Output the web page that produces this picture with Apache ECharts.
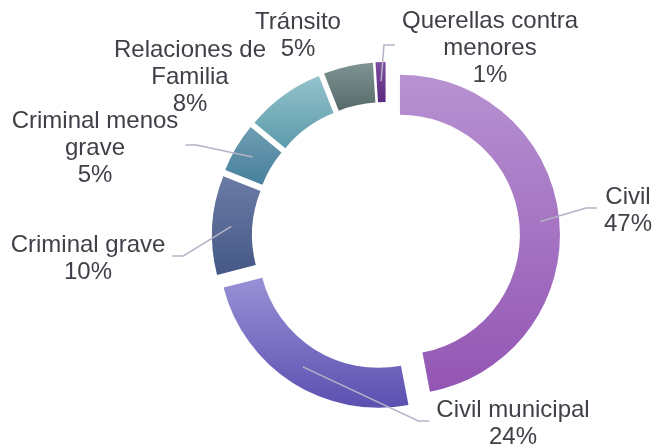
<!DOCTYPE html>
<html>
<head>
<meta charset="utf-8">
<script src="https://cdn.jsdelivr.net/npm/echarts@6/dist/echarts.min.js"></script>
<style>
  html, body { margin: 0; padding: 0; background: #fff; }
  #main { width: 653px; height: 444px; }
</style>
</head>
<body>
<div id="main"></div>
<script>
// categorias y valores (porcentaje)
var categorias = ['Civil', 'Civil municipal', 'Criminal grave', 'Criminal menos\ngrave', 'Relaciones de\nFamilia', 'Tránsito', 'Querellas contra\nmenores'];
var valores = [47, 24, 10, 5, 8, 5, 1];

// colores degradado (arriba, abajo)
var coloresArriba = ['#b792d2', '#9891d6', '#6b7ba6', '#6f9db2', '#93c2cb', '#7e9492', '#7d4d9e'];
var coloresAbajo  = ['#9355b3', '#5b50b0', '#455885', '#47809d', '#5c9bab', '#566b69', '#5b2a80'];

// posicion de etiquetas (centro del texto)
var posEtiquetas = [[628, 211], [513, 424], [88, 259], [95, 148], [190, 77], [298, 36], [490, 48]];
var sinLinea = [false, false, false, false, true, true, false];

var CENTRO = [386, 236];
var R_LINEA = 155;   // radio donde empieza la linea guia
var CODO = 11;       // tramo horizontal de la linea guia

var total = valores.reduce(function (a, b) { return a + b; }, 0);
var angMedio = [];
var acum = 0;
valores.forEach(function (v) {
  angMedio.push((acum + v / 2) / total * 2 * Math.PI);
  acum += v;
});

var myChart = echarts.init(document.getElementById('main'));

// anillo con sectores separados
var datosAnillo = valores.map(function (v, i) {
  return {
    value: v,
    name: categorias[i],
    selected: true,
    itemStyle: {
      color: new echarts.graphic.LinearGradient(0, 0, 0, 1, [
        { offset: 0, color: coloresArriba[i] },
        { offset: 1, color: coloresAbajo[i] }
      ])
    }
  };
});

// serie invisible solo para etiquetas y lineas guia
var datosEtiquetas = valores.map(function (v, i) {
  return {
    value: v,
    name: categorias[i],
    labelLine: { show: !sinLinea[i] }
  };
});

var option = {
  animation: false,
  series: [
    {
      type: 'pie',
      center: CENTRO,
      radius: [120, 160],
      startAngle: 90,
      clockwise: true,
      selectedMode: 'multiple',
      selectedOffset: 14,
      data: datosAnillo,
      label: { show: false },
      labelLine: { show: false },
      select: { itemStyle: { borderWidth: 0 } },
      emphasis: { disabled: true },
      silent: true
    },
    {
      type: 'pie',
      z: 3,
      center: CENTRO,
      radius: [0, R_LINEA],
      startAngle: 90,
      clockwise: true,
      avoidLabelOverlap: false,
      silent: true,
      data: datosEtiquetas,
      itemStyle: { color: 'rgba(0,0,0,0)' },
      emphasis: { disabled: true },
      label: {
        show: true,
        position: 'outside',
        formatter: '{b}\n{d}%',
        color: '#404048',
        fontFamily: 'Liberation Sans',
        fontSize: 24,
        lineHeight: 27,
        align: 'center',
        padding: [0, 7]
      },
      labelLine: {
        show: true,
        length: 15,
        length2: 10,
        lineStyle: { color: '#b6b2c6', width: 1.5 }
      },
      labelLayout: function (params) {
        var i = params.dataIndex;
        var p = posEtiquetas[i];
        var res = { x: p[0], y: p[1], align: 'center', verticalAlign: 'middle' };
        if (!sinLinea[i]) {
          var a = angMedio[i];
          var x0 = CENTRO[0] + R_LINEA * Math.sin(a);
          var y0 = CENTRO[1] - R_LINEA * Math.cos(a);
          var izq = p[0] > CENTRO[0];
          var borde = p[0] + (izq ? -1 : 1) * params.labelRect.width / 2;
          var yL = p[1] - 3;
          res.labelLinePoints = [[x0, y0], [borde + (izq ? -CODO : CODO), yL], [borde, yL]];
        }
        return res;
      }
    }
  ]
};

myChart.setOption(option);
window.addEventListener('resize', function () {
  myChart.resize();
});
</script>
</body>
</html>
